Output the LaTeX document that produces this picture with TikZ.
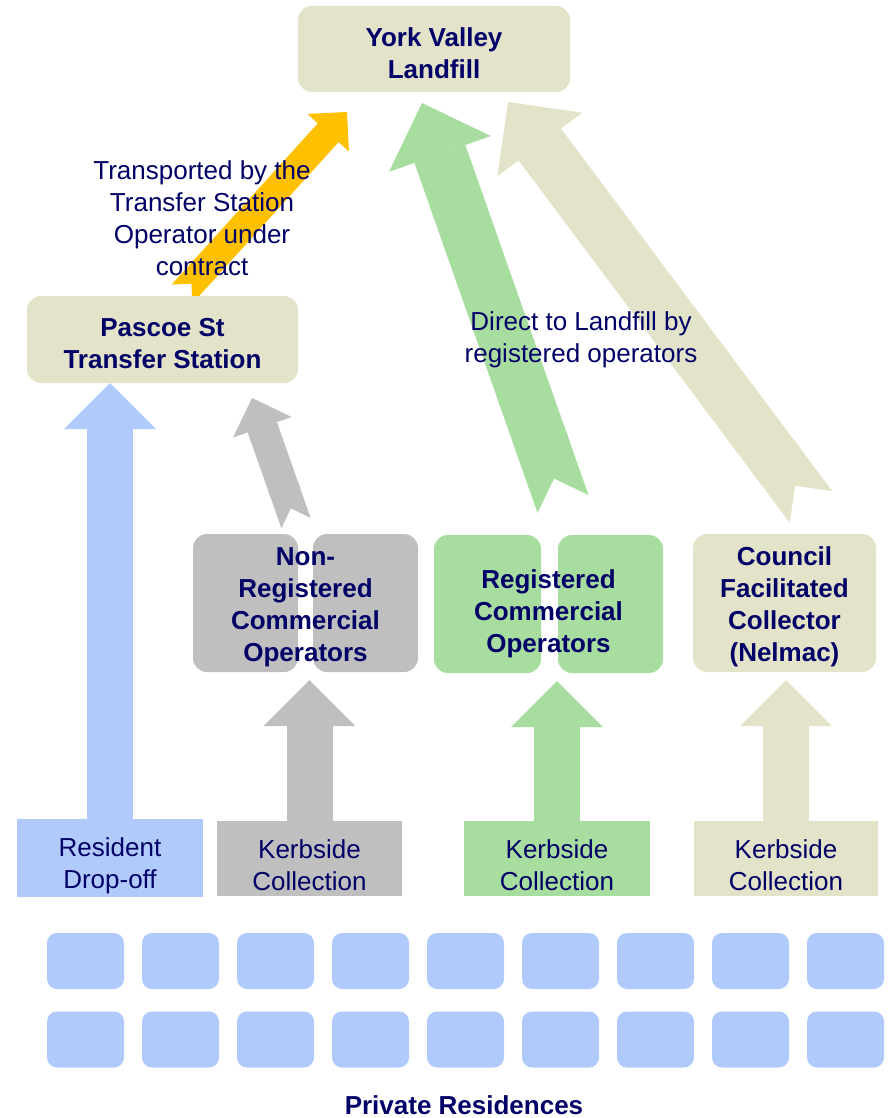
\documentclass[tikz,border=0pt]{standalone}
\usepackage{fontspec}
\setmainfont{Liberation Sans}
\usetikzlibrary{calc, arrows.meta, backgrounds}

\definecolor{navy}{RGB}{0,0,102}
\definecolor{beige}{RGB}{227,227,202}
\definecolor{greyc}{RGB}{191,191,191}
\definecolor{greenc}{RGB}{168,221,160}
\definecolor{bluec}{RGB}{176,202,252}
\definecolor{orangec}{RGB}{255,192,0}

\tikzset{
  lbl/.style={text=navy, align=center, font=\fontsize{26}{32}\selectfont},
  boldlbl/.style={lbl, font=\fontsize{26}{32}\selectfont\bfseries},
  rbox/.style={rounded corners=14pt, inner sep=0pt},
  sqbox/.style={inner sep=0pt, minimum width=186pt, minimum height=75pt},
  house/.style={fill=bluec, rounded corners=10pt, inner sep=0pt,
    minimum width=77pt, minimum height=56pt},
  fat/.style={line width=#1, -{Triangle[width=0pt 2, length=0pt 1, line width=0pt]}},
  notched/.style={line width=#1,
    {Triangle Cap[reversed]}-{Triangle[width=0pt 2, length=0pt 1, line width=0pt]}}
}

\begin{document}
\begin{tikzpicture}[x=1pt, y=-1pt]
  \useasboundingbox (0,0) rectangle (887,1118);

  \node[rbox, fill=beige, minimum width=272pt, minimum height=86pt] (landfill) at (434,49) {};
  \node[boldlbl] (landfilltxt) at ($(landfill)+(0,4)$) {York Valley\\Landfill};
  \node[rbox, fill=beige, minimum width=271pt, minimum height=87pt] (pascoe) at (162.5,339.5) {};
  \node[boldlbl] (pascoetxt) at ($(pascoe)+(0,4)$) {Pascoe St\\Transfer Station};

  \node[rbox, fill=greyc, minimum width=105pt, minimum height=138pt] (nonregL) at (245.5,603) {};
  \node[rbox, fill=greyc, minimum width=105pt, minimum height=138pt] (nonregR) at (365.5,603) {};
  \node[boldlbl] (nonreg) at (305.5,607.5) {Non-\\Registered\\Commercial\\Operators};

  \node[rbox, fill=greenc, minimum width=107pt, minimum height=138pt] (regL) at (487.5,604) {};
  \node[rbox, fill=greenc, minimum width=105pt, minimum height=138pt] (regR) at (610.5,604) {};
  \node[boldlbl] (reg) at (548.5,614) {Registered\\Commercial\\Operators};

  \node[rbox, fill=beige, minimum width=183pt, minimum height=138pt] (council) at (784.5,603) {};
  \node[boldlbl] (counciltxt) at ($(council)+(0,4)$) {Council\\Facilitated\\Collector\\(Nelmac)};

  \node[sqbox, fill=bluec, minimum height=78pt] (dropoff) at (110,858) {};
  \node[lbl] (dropofftxt) at ($(dropoff)+(0,8)$) {Resident\\Drop-off};
  \node[sqbox, fill=greyc, minimum width=185pt] (kerbA) at (309.5,858.5) {};
  \node[sqbox, fill=greenc] (kerbB) at (557,858.5) {};
  \node[sqbox, fill=beige, minimum width=184pt] (kerbC) at (786,858.5) {};
  \foreach \k in {kerbA,kerbB,kerbC}
    \node[lbl] (\k txt) at ($(\k)+(0,6.5)$) {Kerbside\\Collection};

  \foreach \i in {0,...,8} {
    \node[house] (h1\i) at (85.5+95*\i,961) {};
    \node[house] (h2\i) at (85.5+95*\i,1039.5) {};
  }
  \node[boldlbl] (residences) at (464,1105) {Private Residences};

  \coordinate (gtail) at (296,523);
  \coordinate (gtip) at (252,398);
  \coordinate (otail) at (182,294);
  \coordinate (otip) at (347,112);
  \coordinate (rtail) at (563,504);
  \coordinate (rtip) at (422,103);
  \coordinate (ctail) at (811,507);
  \coordinate (ctip) at (508,102);

  \begin{scope}[on background layer]
    \draw[fat=46pt, bluec] (dropoff.north) -- (dropoff.north |- pascoe.south);
    \draw[fat=46pt, greyc] (kerbA.north) -- ($(kerbA.north |- nonregL.south)+(0,8)$);
    \draw[fat=46pt, greenc] (kerbB.north) -- ($(kerbB.north |- regL.south)+(0,8)$);
    \draw[fat=46pt, beige] (kerbC.north) -- ($(kerbC.north |- council.south)+(0,8)$);

    \draw[notched=31pt, greyc] (gtail) -- (gtip);
    \draw[notched=28pt, orangec] (otail) -- (otip);
    \draw[notched=54pt, greenc] (rtail) -- (rtip);
    \draw[notched=53pt, beige] (ctail) -- (ctip);
  \end{scope}

  \node[lbl] (transported) at (202,218) {Transported by the\\Transfer Station\\Operator under\\contract};
  \node[lbl] (direct) at (581,339.5) {Direct to Landfill by\\registered operators};
\end{tikzpicture}
\end{document}
